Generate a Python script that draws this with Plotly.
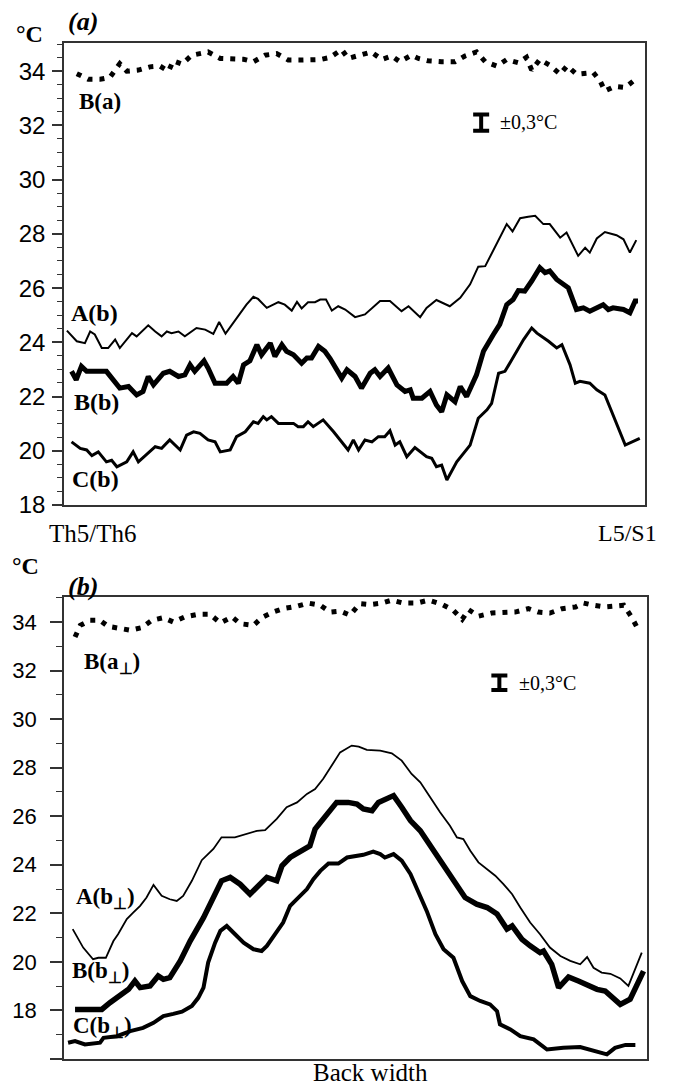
import plotly.graph_objects as go

# ---------------- data: panel (a) (position along spine, % of Th5/Th6 -> L5/S1) ----------------
a_Ab_x = [0.5,2.2,3.6,4.5,5.3,6.5,7.6,8.8,9.6,11.7,12.5,14.5,15.7,16.8,17.7,18.5,19.7,20.8,22.8,24.3,
          25.7,26.7,27.8,29.1,31.4,32.6,33.4,34.9,36.9,38.0,39.2,40.1,40.9,42.0,43.2,44.1,45.1,46.1,47.2,48.4,
          50.1,51.8,54.4,56.1,58.1,59.3,61.3,62.4,64.1,66.4,68.2,69.9,71.3,72.5,74.5,76.2,77.2,78.5,79.9,81.1,
          82.5,83.6,85.4,86.5,88.5,89.7,90.5,91.7,93.1,95.1,96.3,97.4,98.5]
a_Ab_y = [24.43,24.04,23.97,24.40,24.29,23.79,23.79,24.10,23.79,24.34,24.22,24.63,24.40,24.22,24.40,24.34,24.40,24.22,24.53,24.47,
          24.31,24.75,24.32,24.71,25.39,25.68,25.60,25.27,25.48,25.39,25.17,25.49,25.25,25.48,25.48,25.58,25.58,25.17,25.33,25.21,
          24.93,25.03,25.52,25.52,25.15,25.33,24.93,25.27,25.56,25.33,25.64,26.14,26.79,26.81,27.62,28.36,28.09,28.58,28.63,28.67,
          28.36,28.36,27.86,28.05,27.19,27.49,27.31,27.83,28.07,27.95,27.80,27.31,27.77]

a_Bb_x = [1.3,2.1,3.0,3.9,7.3,8.5,9.6,11.1,12.5,13.6,14.5,15.4,17.1,18.2,19.7,20.8,21.7,22.5,24.1,24.8,
          26.0,28.0,29.1,30.0,30.9,32.0,33.2,34.0,35.5,36.3,37.5,38.3,39.5,40.9,41.8,42.6,43.8,44.9,45.8,47.8,
          48.7,50.1,51.2,52.7,53.5,54.4,55.8,57.3,58.7,59.6,60.1,61.6,63.0,64.1,65.0,65.9,67.3,68.2,69.3,71.0,
          72.2,73.9,75.0,76.2,77.3,78.2,79.3,80.5,81.9,82.8,83.6,84.8,86.8,88.2,89.4,90.5,91.7,92.8,93.7,94.5,
          96.3,97.4,98.3,98.8]
a_Bb_y = [22.93,22.62,23.11,22.93,22.93,22.62,22.31,22.37,22.06,22.19,22.74,22.43,22.86,22.93,22.74,22.80,23.17,22.93,23.32,23.05,
          22.49,22.49,22.74,22.49,23.17,23.32,23.91,23.54,23.97,23.48,23.91,23.67,23.54,23.23,23.42,23.42,23.85,23.67,23.40,22.68,
          22.99,22.74,22.31,22.86,22.99,22.74,23.05,22.43,22.19,22.25,21.94,21.94,22.19,21.69,21.44,22.06,21.81,22.37,22.00,22.80,
          23.67,24.29,24.66,25.39,25.58,25.91,25.89,26.26,26.75,26.57,26.63,26.32,26.01,25.21,25.27,25.15,25.30,25.39,25.21,25.27,
          25.21,25.09,25.52,25.52]

a_Cb_x = [1.3,2.8,3.9,4.8,5.9,7.3,8.2,9.1,10.8,11.9,12.8,14.5,15.7,16.8,18.2,20.0,21.1,22.3,23.4,24.8,
          26.0,26.9,28.6,29.7,31.2,32.6,33.4,34.3,34.9,35.7,36.9,39.5,40.3,41.2,42.0,42.9,44.6,46.4,47.5,48.9,
          49.8,50.7,51.8,53.0,54.1,55.2,56.1,57.0,57.8,59.0,60.4,62.4,63.3,64.1,65.0,65.9,67.6,69.0,69.9,71.3,
          72.8,73.6,74.8,75.9,77.3,79.1,80.5,81.4,83.4,84.8,85.7,87.1,88.0,88.8,90.5,91.7,93.1,94.8,96.6,99.1]
a_Cb_y = [20.33,20.09,20.03,19.82,19.96,19.59,19.65,19.41,19.59,19.96,19.59,19.90,20.15,20.09,20.40,20.03,20.58,20.70,20.64,20.40,
          20.33,19.96,20.03,20.52,20.70,21.07,21.01,21.26,21.14,21.26,21.01,21.01,20.89,20.89,21.07,20.89,21.14,20.70,20.40,20.03,
          20.40,20.03,20.40,20.33,20.52,20.52,20.74,20.21,20.33,19.78,20.12,19.78,19.72,19.41,19.47,18.92,19.59,19.96,20.21,21.20,
          21.51,21.75,22.86,22.93,23.42,24.10,24.53,24.34,24.04,23.79,23.91,23.17,22.49,22.56,22.49,22.25,22.06,21.14,20.21,20.46]

a_Ba_x = [2.2,4.2,6.2,7.9,9.6,10.8,12.8,14.8,16.5,18.0,18.8,20.3,22.0,23.7,24.8,26.9,28.9,30.9,32.6,34.6,
          36.6,38.6,40.6,42.6,44.1,45.8,47.8,48.9,50.9,52.9,54.7,56.4,57.8,59.8,61.0,62.7,65.0,67.3,69.0,71.0,
          72.5,74.5,76.2,78.2,79.6,80.5,81.9,83.6,85.4,86.6,88.2,90.0,91.1,92.3,93.1,94.8,96.6,98.3]
a_Ba_y = [33.91,33.70,33.70,33.77,34.28,34.00,34.04,34.16,34.19,34.00,34.38,34.26,34.59,34.68,34.71,34.47,34.44,34.44,34.35,34.59,
          34.65,34.41,34.41,34.41,34.43,34.51,34.80,34.47,34.59,34.71,34.43,34.56,34.35,34.59,34.47,34.38,34.35,34.35,34.56,34.71,
          34.35,34.19,34.43,34.31,34.51,34.04,34.43,34.22,33.89,34.20,33.89,33.91,33.95,33.63,33.27,33.44,33.40,33.69]

# ---------------- data: panel (b) (position across back width, %) ----------------
b_Ab_x = [1.5,3.3,5.0,5.9,7.2,8.5,9.3,10.8,11.9,13.1,14.2,15.4,16.8,18.2,19.4,20.5,22.0,23.7,25.7,27.1,
          29.4,31.4,33.2,34.6,36.6,38.3,40.1,41.8,43.2,44.6,46.1,47.5,49.5,50.7,52.1,54.4,56.4,58.1,59.8,61.3,
          63.0,64.7,66.4,67.6,68.7,69.9,71.3,72.8,74.2,75.6,77.1,78.5,80.2,81.9,83.6,85.4,87.1,88.8,90.0,91.1,
          92.5,94.0,95.7,97.1,98.3,99.4]
b_Ab_y = [21.35,20.59,20.11,20.17,20.17,20.86,21.14,21.76,22.03,22.31,22.65,23.17,22.72,22.58,22.51,22.72,23.34,24.19,24.65,25.13,
          25.13,25.27,25.40,25.43,25.89,26.37,26.57,26.92,27.12,27.54,28.09,28.63,28.91,28.87,28.73,28.70,28.59,28.29,27.74,27.40,
          26.78,26.16,25.61,25.13,25.06,24.58,24.10,23.82,23.55,23.20,22.79,22.24,21.62,21.14,20.59,20.24,20.04,19.90,20.20,19.76,
          19.56,19.51,19.32,19.01,19.76,20.38]

b_Bb_x = [1.9,6.5,7.9,9.3,11.1,12.2,13.1,14.8,16.2,17.1,18.2,20.0,21.7,24.0,25.7,27.1,28.6,30.3,32.0,33.2,
          34.9,36.6,37.5,38.9,40.6,42.3,43.2,44.6,45.8,46.9,48.9,50.4,51.5,53.0,54.1,55.5,56.7,58.1,59.6,61.3,
          63.0,64.7,66.4,67.6,69.0,71.0,72.8,74.5,76.2,77.1,78.8,80.2,81.9,82.5,83.9,85.1,86.8,88.5,90.2,91.7,
          93.1,94.5,95.7,97.4,98.6,99.7]
b_Bb_y = [18.04,18.04,18.32,18.59,18.87,19.21,18.94,19.01,19.42,19.28,19.35,20.04,20.86,21.82,22.65,23.34,23.48,23.20,22.79,23.06,
          23.48,23.34,23.96,24.30,24.51,24.78,25.47,25.89,26.16,26.57,26.57,26.50,26.30,26.23,26.57,26.71,26.85,26.37,25.82,25.40,
          24.78,24.17,23.62,23.13,22.65,22.38,22.24,21.97,21.35,21.48,20.93,20.66,20.38,20.45,19.90,18.94,19.38,19.21,19.01,18.87,
          18.80,18.52,18.25,18.46,19.08,19.62]

b_Cb_x = [0.7,1.9,3.6,6.2,6.8,9.1,11.4,13.6,15.4,17.1,18.8,20.3,22.0,23.1,24.0,24.8,26.0,26.9,28.0,29.1,
          30.9,32.6,34.0,34.9,36.6,37.7,38.9,40.6,41.8,42.9,44.1,45.5,47.2,48.7,51.5,53.2,54.4,55.2,56.7,58.1,
          59.6,61.0,62.4,63.9,65.3,67.0,68.5,69.9,71.6,73.3,74.5,75.0,76.8,78.5,80.8,83.1,85.9,88.8,91.7,93.4,
          94.8,96.6,98.3]
b_Cb_y = [16.67,16.74,16.60,16.67,16.87,16.94,17.15,17.28,17.49,17.77,17.86,17.95,18.18,18.52,18.94,19.97,20.79,21.28,21.48,21.21,
          20.79,20.52,20.45,20.66,21.21,21.62,22.31,22.72,23.00,23.41,23.75,24.05,24.05,24.30,24.41,24.54,24.44,24.30,24.44,24.17,
          23.62,22.86,22.10,21.14,20.52,20.17,19.21,18.59,18.39,18.25,17.97,17.43,17.22,16.94,16.81,16.39,16.46,16.49,16.32,16.19,
          16.46,16.58,16.58]

b_Ba_x = [1.9,2.8,4.5,6.2,7.6,9.3,11.4,13.4,15.1,17.1,18.8,20.8,23.1,25.1,26.9,28.9,30.3,32.6,34.0,36.0,
          37.7,40.1,42.0,44.1,45.8,47.5,49.2,50.9,52.7,54.7,56.4,58.4,60.7,62.7,65.0,67.0,68.5,69.6,71.3,73.6,
          75.6,77.6,79.9,81.6,83.6,85.7,88.0,89.4,91.1,93.1,94.5,96.3,97.7,98.6]
b_Ba_y = [33.38,33.86,34.07,34.07,33.82,33.73,33.66,33.77,34.07,34.18,34.00,34.21,34.32,34.32,33.96,34.21,33.93,33.86,34.18,34.41,
          34.55,34.65,34.78,34.69,34.41,34.45,34.28,34.76,34.72,34.78,34.90,34.78,34.78,34.90,34.73,34.48,34.11,34.51,34.24,34.37,
          34.41,34.41,34.55,34.41,34.37,34.55,34.62,34.78,34.69,34.62,34.65,34.69,34.18,33.77]

err_val = 0.3
err_a = (71.8, 32.1)   # position of the ±0,3°C glyph, panel (a)
err_b = (74.9, 31.5)   # panel (b)

y_ticks_a = [18, 20, 22, 24, 26, 28, 30, 32, 34]
y_ticks_b = [16, 18, 20, 22, 24, 26, 28, 30, 32, 34]
y_text_b = [" "] + [str(v) for v in y_ticks_b[1:]]

# ---------------- figure ----------------
W, H = 674, 1088
L, R, T, B = 64, 27, 43, 29
PW, PH = W - L - R, H - T - B

def px(x):
    return (x - L) / PW

def py(y):
    return (H - B - y) / PH

BLACK = "#000000"
AX = "#333333"
SERIF = "Liberation Serif, Times New Roman, serif"
SANS = "Liberation Sans, Arial, sans-serif"

fig = go.Figure()

def line(x, y, w, xa, ya, dash=None):
    fig.add_trace(go.Scatter(x=x, y=y, mode="lines", xaxis=xa, yaxis=ya,
                             line=dict(color=BLACK, width=w, dash=dash), hoverinfo="skip"))

line(a_Ba_x, a_Ba_y, 5, "x", "y", dash="5px,7px")
line(a_Ab_x, a_Ab_y, 2, "x", "y")
line(a_Bb_x, a_Bb_y, 5, "x", "y")
line(a_Cb_x, a_Cb_y, 3, "x", "y")

line(b_Ba_x, b_Ba_y, 5, "x2", "y2", dash="5px,7px")
line(b_Ab_x, b_Ab_y, 1.8, "x2", "y2")
line(b_Bb_x, b_Bb_y, 5.5, "x2", "y2")
line(b_Cb_x, b_Cb_y, 4, "x2", "y2")

for (ex, ey), xa, ya in [(err_a, "x", "y"), (err_b, "x2", "y2")]:
    fig.add_trace(go.Scatter(x=[ex], y=[ey], mode="markers", xaxis=xa, yaxis=ya,
                             marker=dict(size=1, color=BLACK),
                             error_y=dict(type="data", array=[err_val], visible=True,
                                          color=BLACK, thickness=4, width=8),
                             hoverinfo="skip"))

top_bottom_px = 505
bot_top_px = 597
dom_a = [py(top_bottom_px), 1.0]
dom_b = [0.0, py(bot_top_px)]

axis_common = dict(showline=True, linecolor=AX, linewidth=1.5, mirror=True,
                   showgrid=False, zeroline=False)

fig.update_layout(
    width=W, height=H,
    margin=dict(l=L, r=R, t=T, b=B),
    paper_bgcolor="white", plot_bgcolor="white",
    showlegend=False,
    xaxis=dict(domain=[0, (645 - L) / PW], range=[0, 100], anchor="y",
               showticklabels=False, ticks="", **axis_common),
    yaxis=dict(domain=dom_a, range=[18, 35.04], anchor="x",
               tickvals=y_ticks_a, ticks="outside", ticklen=10, tickwidth=1.5, tickcolor=AX,
               tickfont=dict(family=SANS, size=24, color=BLACK), ticklabelstandoff=2,
               minor=dict(dtick=0.5, tick0=18, ticks="outside", ticklen=5, tickwidth=1.2, tickcolor=AX),
               **axis_common),
    xaxis2=dict(domain=[0, 1], range=[0, 100.3], anchor="y2",
                showticklabels=False, ticks="", **axis_common),
    yaxis2=dict(domain=dom_b, range=[16, 35.03], anchor="x2",
                tickvals=y_ticks_b, ticktext=y_text_b, ticks="outside", ticklen=12, tickwidth=1.5,
                tickcolor=AX, tickfont=dict(family=SANS, size=22, color=BLACK), ticklabelstandoff=9,
                minor=dict(dtick=1, tick0=16, ticks="outside", ticklen=6, tickwidth=1.2, tickcolor=AX),
                **axis_common),
)

def ann(text, x, y, size, xanchor="center"):
    fig.add_annotation(text=text, x=px(x), y=py(y), xref="paper", yref="paper",
                       xanchor=xanchor, yanchor="middle", showarrow=False,
                       font=dict(family=SERIF, size=size, color=BLACK))

ann("<b>°C</b>", 29, 34, 24)
ann("<b><i>(a)</i></b>", 83, 21, 26)
ann("<b>°C</b>", 25, 566, 24)
ann("<b><i>(b)</i></b>", 83, 587, 26)
ann("Th5/Th6", 93, 533, 25)
ann("L5/S1", 627, 533, 24)
ann("Back width", 370, 1072, 25)

ann("<b>B(a)</b>", 100, 101, 23)
ann("<b>A(b)</b>", 94, 313, 24)
ann("<b>B(b)</b>", 96, 402, 24)
ann("<b>C(b)</b>", 95, 479, 24)
ann("±0,3°C", 528, 122, 20)

ann("<b>B(a<sub>⊥</sub>)</b>", 112, 663, 23)
ann("<b>A(b<sub>⊥</sub>)</b>", 105, 898, 23)
ann("<b>B(b<sub>⊥</sub>)</b>", 100, 972, 23)
ann("<b>C(b<sub>⊥</sub>)</b>", 102, 1027, 23)
ann("±0,3°C", 547, 683, 20)

fig.write_html("out.html",
               config={"displayModeBar": False},
               post_script="document.body.style.margin='0';document.body.style.overflow='hidden';")
